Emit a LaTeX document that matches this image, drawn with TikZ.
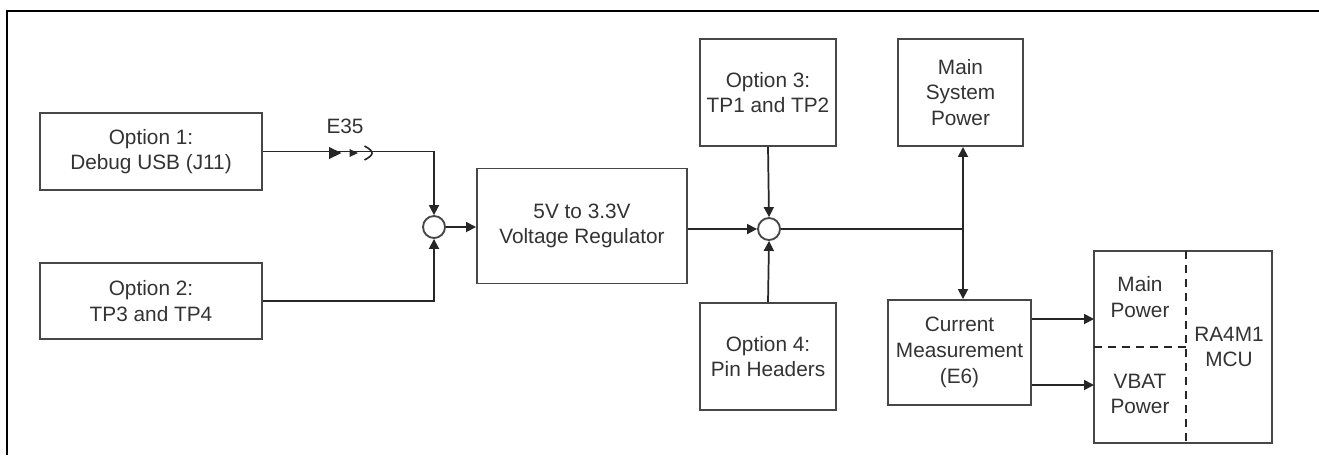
\documentclass[tikz,border=0pt]{standalone}
\usepackage{fontspec}
\setmainfont{Liberation Sans}
\usetikzlibrary{arrows.meta}
\begin{document}
\begin{tikzpicture}[x=0.75pt,y=-0.75pt,
  lbl/.style={font=\fontsize{15.6}{19.3}\selectfont, text=black!80, align=center},
  blk/.style={lbl, draw=black!72, line width=1.45pt, inner sep=0pt, fill=white},
  sumc/.style={draw=black!72, line width=1.4pt, circle, minimum size=22*0.75pt, inner sep=0pt},
  conn/.style={draw=black!85, line width=1.3pt},
  arr/.style={conn, -{Triangle[length=7.5pt,width=7.5pt]}},
  dsh/.style={draw=black!85, line width=1.3pt, dash pattern=on 6pt off 4.5pt}]
\useasboundingbox (0,0) rectangle (1319,455);
\fill[white] (0,0) rectangle (1319,455);
% outer frame
\draw[line width=1.6pt] (1319,11) -- (7,11) -- (7,455);
% blocks
\node[blk, minimum width=222*0.75pt, minimum height=77*0.75pt] (opt1) at (151,151.5) {Option 1:\\Debug USB (J11)};
\node[blk, minimum width=222*0.75pt, minimum height=76*0.75pt] (opt2) at (151,301) {Option 2:\\TP3 and TP4};
\node[blk, minimum width=210*0.75pt, minimum height=115*0.75pt] (reg) at (582,226) {5V to 3.3V\\Voltage Regulator};
\node[blk, minimum width=136*0.75pt, minimum height=107*0.75pt] (opt3) at (768,92.5) {Option 3:\\TP1 and TP2};
\node[blk, minimum width=136*0.75pt, minimum height=107*0.75pt] (opt4) at (768,356.5) {Option 4:\\Pin Headers};
\node[blk, minimum width=125*0.75pt, minimum height=107*0.75pt] (msp) at (960.5,92.5) {Main\\System\\Power};
\node[blk, minimum width=143*0.75pt, minimum height=105*0.75pt] (cm) at (959.5,352.5) {Current\\Measurement\\(E6)};
\node[blk, minimum width=178*0.75pt, minimum height=192*0.75pt] (mcu) at (1183,347) {};
\draw[dsh] (1186,251) -- (1186,443);
\draw[dsh] (1094,347) -- (1186,347);
\node[lbl] (mainp) at (1140,297) {Main\\Power};
\node[lbl] (vbatp) at (1140,394) {VBAT\\Power};
\node[lbl] (mcut) at (1229,347) {RA4M1\\MCU};
% summing junctions
\node[sumc] (sum1) at (434,227) {};
\node[sumc] (sum2) at (769,229) {};
\coordinate (j) at (963,229);
\coordinate (mainin) at (1094,319);
\coordinate (vbatin) at (1094,385);
% jumper E35
\node[lbl] (e35) at (345,126) {E35};
% connectors
\draw[arr] (opt1.east) -| (sum1.north);
\draw[arr] (opt2.east) -| (sum1.south);
\draw[arr] (sum1.east) -- (sum1.east -| reg.west);
\draw[arr] (reg.east |- sum2.west) -- (sum2.west);
\draw[arr] (opt3.south) -- (sum2.north);
\draw[arr] (opt4.north) -- (sum2.south);
\draw[conn] (sum2.east) -- (j);
\draw[arr] (j) -- (j |- msp.south);
\draw[arr] (j) -- (j |- cm.north);
\draw[arr] (cm.east |- mainin) -- (mainin);
\draw[arr] (cm.east |- vbatin) -- (vbatin);
% jumper marks on the E35 line
\fill[black!85] (329,147) -- (341.5,153) -- (329,159) -- cycle;
\fill[black!85] (349.5,149) -- (358,153) -- (349.5,157) -- cycle;
\draw[black!85, line width=1.2pt] (364.5,146) .. controls (370,149) and (372,151) .. (372,153) .. controls (372,155) and (370,157) .. (364.5,160);
\end{tikzpicture}
\end{document}
